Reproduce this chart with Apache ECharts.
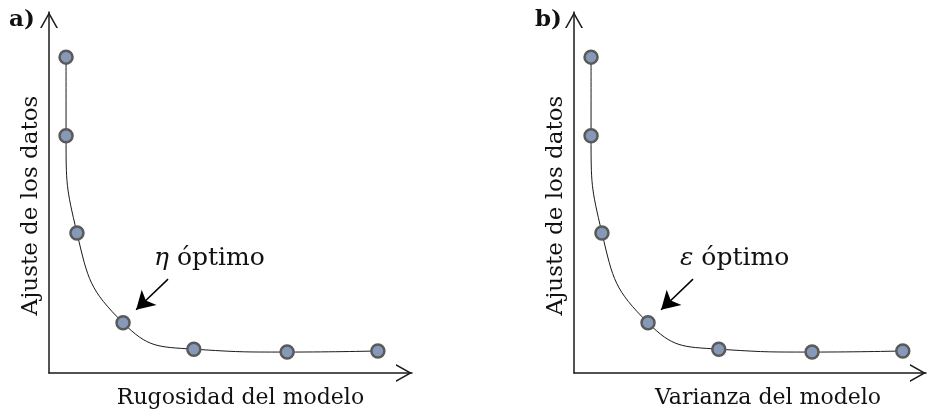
<!DOCTYPE html>
<html>
<head>
<meta charset="utf-8">
<script src="https://cdn.jsdelivr.net/npm/echarts@6/dist/echarts.min.js"></script>
<style>html,body{margin:0;padding:0;background:#fff}#c{width:927px;height:415px}</style>
</head>
<body>
<div id="c"></div>
<script>
// Data (abstract units: x 0..100 across panel a axis, y 0..100 up the axis)
const xValues = [4.7, 4.7, 7.7, 20.4, 39.9, 65.6, 90.6];
const yValues = [87.5, 65.7, 38.8, 13.9, 6.6, 5.8, 6.1];
const panelLabels = ['a)', 'b)'];
const xTitles = ['Rugosidad del modelo', 'Varianza del modelo'];
const yTitle = 'Ajuste de los datos';
const optimumSymbols = ['η', 'ε'];
const optimumWord = ' óptimo';
const arrowStart = [32.8, 26.0];
const arrowEnd = [24.0, 17.5];

const FONT = 'DejaVu Serif';
const pts = xValues.map((x, i) => [x, yValues[i]]);
const vArrow = 'path://M0,16 L9,0 L18,16 L16.28,16 L9,3.06 L1.72,16 Z';

const grids = [
  {left: 49, top: 12, width: 363, height: 361},
  {left: 574, top: 12, width: 352, height: 361}
];
const xMax = [100, 97];
const xTitlePad = [[0, 0, 0, 20], [0, 0, 0, 36]];

function axisLine() {
  return {show: true, symbol: ['none', vArrow], symbolSize: [18, 16], symbolOffset: [0, -8],
    lineStyle: {color: '#1a1a1a', width: 1.5}};
}

const option = {
  animation: false,
  backgroundColor: '#fff',
  grid: grids,
  xAxis: [0, 1].map(i => ({
    type: 'value', gridIndex: i, min: 0, max: xMax[i],
    axisLine: axisLine(), axisTick: {show: false}, axisLabel: {show: false}, splitLine: {show: false},
    name: xTitles[i], nameLocation: 'middle', nameGap: 14,
    nameTextStyle: {fontFamily: FONT, fontSize: 22, color: '#111', verticalAlign: 'top', padding: xTitlePad[i]}
  })),
  yAxis: [0, 1].map(i => ({
    type: 'value', gridIndex: i, min: 0, max: 100,
    axisLine: axisLine(), axisTick: {show: false}, axisLabel: {show: false}, splitLine: {show: false},
    name: yTitle, nameLocation: 'middle', nameGap: 6,
    nameTextStyle: {fontFamily: FONT, fontSize: 23, color: '#111', padding: [0, 26, 0, 0]}
  })),
  series: [0, 1].map(i => ({
    type: 'line', xAxisIndex: i, yAxisIndex: i, data: pts, smooth: true,
    symbol: 'circle', symbolSize: 13,
    lineStyle: {color: '#1a1a1a', width: 1},
    itemStyle: {color: '#8699b8', borderColor: '#5a5a5a', borderWidth: 2.5},
    markLine: {
      silent: true, symbol: ['none', 'arrow'], symbolSize: [16, 18],
      lineStyle: {color: '#000', width: 1.5, type: 'solid'}, label: {show: false},
      data: [[{coord: arrowStart}, {coord: arrowEnd}]]
    }
  })),
  graphic: [
    {type: 'text', left: 9, top: 9, style: {text: panelLabels[0], font: 'bold 23px ' + FONT, fill: '#111'}},
    {type: 'text', left: 535, top: 9, style: {text: panelLabels[1], font: 'bold 23px ' + FONT, fill: '#111'}},
    {type: 'text', left: 154, top: 246, style: {
      text: '{i|' + optimumSymbols[0] + '}' + optimumWord, font: '25px ' + FONT, fill: '#111',
      rich: {i: {fontFamily: FONT, fontSize: 25, fontStyle: 'italic', fill: '#111'}}}},
    {type: 'text', left: 680, top: 246, style: {
      text: '{i|' + optimumSymbols[1] + '}' + optimumWord, font: '25px ' + FONT, fill: '#111',
      rich: {i: {fontFamily: FONT, fontSize: 25, fontStyle: 'italic', fill: '#111'}}}}
  ]
};
const chart = echarts.init(document.getElementById('c'), null, {renderer: 'canvas'});
chart.setOption(option);
</script>
</body>
</html>
